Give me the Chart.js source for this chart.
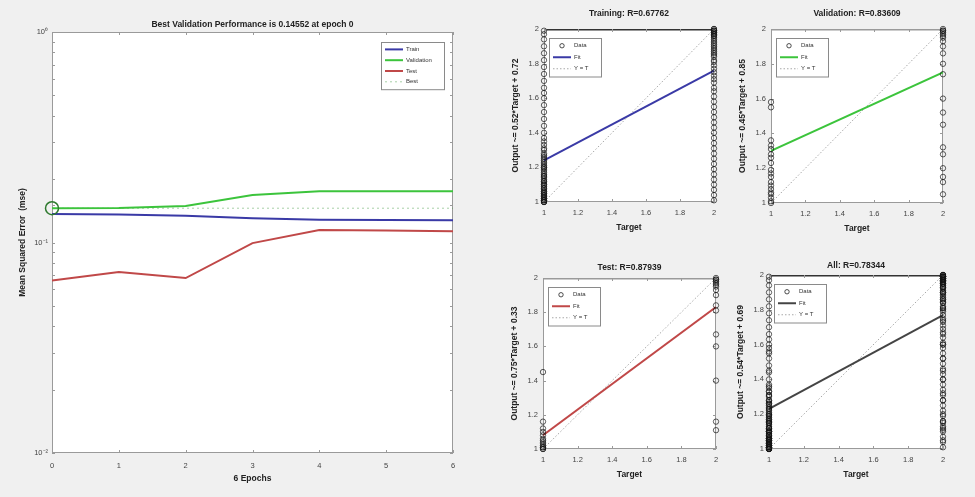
<!DOCTYPE html>
<html>
<head>
<meta charset="utf-8">
<script src="https://cdn.jsdelivr.net/npm/chart.js@4.4.1/dist/chart.umd.min.js"></script>
<style>
  html, body { margin: 0; padding: 0; background: #f0f0f0; }
  body { width: 975px; height: 497px; position: relative; overflow: hidden; }
  canvas { position: absolute; }
</style>
</head>
<body>
<canvas id="perf"></canvas>
<canvas id="reg0"></canvas>
<canvas id="reg1"></canvas>
<canvas id="reg2"></canvas>
<canvas id="reg3"></canvas>
<script>
// performance plot (mse per epoch)
const epochs = [0, 1, 2, 3, 4, 5, 6];
const trainPerf = [0.1365, 0.136, 0.134, 0.1303, 0.1283, 0.128, 0.1275];
const valPerf = [0.14552, 0.146, 0.149, 0.168, 0.175, 0.175, 0.175];
const testPerf = [0.066, 0.0724, 0.0678, 0.0993, 0.1146, 0.114, 0.113];
const bestEpoch = 0;
const bestPerf = 0.14552;
const perfTickLabels = ['10\u207B\u00B2', '10\u207B\u00B9', '10\u2070'];

// regression panels
const panelNames = ['Training', 'Validation', 'Test', 'All'];
const rValues = [0.67762, 0.83609, 0.87939, 0.78344];
const fitSlope = [0.52, 0.45, 0.75, 0.54];
const fitIntercept = [0.72, 0.85, 0.33, 0.69];
const regTickLabels = ['1', '1.2', '1.4', '1.6', '1.8', '2'];

// network outputs for samples with target 1 and target 2
const trainOut1 = [1.00, 1.00, 1.00, 1.01, 1.01, 1.01, 1.02, 1.02, 1.03, 1.03, 1.04, 1.04, 1.05, 1.05, 1.06, 1.06,
  1.07, 1.08, 1.08, 1.09, 1.10, 1.10, 1.11, 1.12, 1.12, 1.13, 1.14, 1.15, 1.15, 1.16, 1.17, 1.18, 1.19, 1.20,
  1.20, 1.21, 1.22, 1.23, 1.24, 1.25, 1.26, 1.27, 1.28, 1.30, 1.31, 1.33, 1.35, 1.37, 1.40, 1.44, 1.48, 1.52,
  1.56, 1.60, 1.63, 1.66, 1.70, 1.74, 1.78, 1.82, 1.86, 1.90, 1.94, 1.97, 1.99];
const trainOut2 = [2.00, 2.00, 1.99, 1.99, 1.99, 1.98, 1.98, 1.97, 1.97, 1.96, 1.96, 1.95, 1.94, 1.93, 1.92, 1.91,
  1.90, 1.89, 1.88, 1.87, 1.86, 1.85, 1.84, 1.82, 1.81, 1.79, 1.77, 1.75, 1.73, 1.71, 1.69, 1.66, 1.64, 1.61,
  1.58, 1.55, 1.52, 1.49, 1.46, 1.43, 1.40, 1.37, 1.34, 1.31, 1.28, 1.25, 1.22, 1.19, 1.16, 1.13, 1.10, 1.07,
  1.04, 1.01];
const valOut1 = [1.00, 1.01, 1.03, 1.05, 1.06, 1.08, 1.10, 1.12, 1.15, 1.17, 1.19, 1.23, 1.26, 1.28, 1.31, 1.33,
  1.36, 1.55, 1.58];
const valOut2 = [2.00, 1.99, 1.99, 1.98, 1.97, 1.96, 1.95, 1.93, 1.90, 1.86, 1.80, 1.74, 1.60, 1.52, 1.45, 1.32,
  1.28, 1.20, 1.15, 1.12, 1.05];
const testOut1 = [1.00, 1.00, 1.01, 1.01, 1.02, 1.03, 1.04, 1.05, 1.06, 1.08, 1.10, 1.12, 1.16, 1.45];
const testOut2 = [2.00, 1.99, 1.99, 1.98, 1.97, 1.96, 1.95, 1.93, 1.90, 1.84, 1.81, 1.67, 1.60, 1.40, 1.16, 1.11];

const outputs1 = [trainOut1, valOut1, testOut1, trainOut1.concat(valOut1, testOut1)];
const outputs2 = [trainOut2, valOut2, testOut2, trainOut2.concat(valOut2, testOut2)];
const fitColors = ['#3a3aa6', '#3cc43c', '#c04848', '#444444'];
const topEdgeColors = ['#333333', '#9a9a9a', '#9a9a9a', '#333333'];

Chart.defaults.font.family = '"Liberation Sans", Arial, sans-serif';
Chart.defaults.color = '#444';
Chart.defaults.animation = false;

// white plot area, box and inward ticks like the original figure
const plotFrame = {
  id: 'plotFrame',
  beforeDraw(chart) {
    const { ctx, chartArea: a } = chart;
    ctx.save();
    ctx.fillStyle = '#fff';
    ctx.fillRect(a.left, a.top, a.right - a.left, a.bottom - a.top);
    ctx.restore();
  },
  beforeDatasetsDraw(chart, args, opts) {
    const { ctx, chartArea: a, scales } = chart;
    ctx.save();
    ctx.strokeStyle = '#9a9a9a';
    ctx.lineWidth = 1;
    ctx.strokeRect(a.left + 0.5, a.top + 0.5, a.right - a.left - 1, a.bottom - a.top - 1);
    if (opts.topColor) {
      ctx.strokeStyle = opts.topColor;
      ctx.lineWidth = 1.5;
      ctx.beginPath();
      ctx.moveTo(a.left, a.top + 0.75); ctx.lineTo(a.right, a.top + 0.75);
      ctx.stroke();
      ctx.strokeStyle = '#9a9a9a';
      ctx.lineWidth = 1;
    }
    ctx.beginPath();
    scales.x.ticks.forEach(t => {
      const px = Math.round(scales.x.getPixelForValue(t.value)) + 0.5;
      ctx.moveTo(px, a.bottom); ctx.lineTo(px, a.bottom - 3);
      ctx.moveTo(px, a.top); ctx.lineTo(px, a.top + 3);
    });
    scales.y.ticks.forEach(t => {
      const py = Math.round(scales.y.getPixelForValue(t.value)) + 0.5;
      ctx.moveTo(a.left, py); ctx.lineTo(a.left + 3, py);
      ctx.moveTo(a.right, py); ctx.lineTo(a.right - 3, py);
    });
    ctx.stroke();
    ctx.restore();
  }
};

// legend box drawn inside the plot area
const boxLegend = {
  id: 'boxLegend',
  afterDatasetsDraw(chart, args, opts) {
    const { ctx, chartArea: a } = chart;
    const items = chart.data.datasets.filter(d => d.label);
    const x = opts.side === 'right' ? a.right - opts.dx - opts.w : a.left + opts.dx;
    const y = a.top + opts.dy;
    const h = opts.pad * 2 + opts.rowH * items.length;
    ctx.save();
    ctx.fillStyle = '#fff';
    ctx.fillRect(x, y, opts.w, h);
    ctx.strokeStyle = '#8a8a8a';
    ctx.lineWidth = 1;
    ctx.strokeRect(x + 0.5, y + 0.5, opts.w, h);
    ctx.font = '6px "Liberation Sans", Arial, sans-serif';
    ctx.textBaseline = 'middle';
    items.forEach((d, i) => {
      const cy = y + opts.pad + opts.rowH * (i + 0.5);
      const sx = x + 4, ex = x + 4 + opts.sample;
      ctx.strokeStyle = d.borderColor;
      if (d.showLine === false) {
        ctx.lineWidth = 0.8;
        ctx.beginPath();
        ctx.arc((sx + ex) / 2, cy, 2.2, 0, Math.PI * 2);
        ctx.stroke();
      } else {
        ctx.lineWidth = d.borderWidth;
        ctx.setLineDash(d.borderDash || []);
        ctx.beginPath();
        ctx.moveTo(sx, cy); ctx.lineTo(ex, cy);
        ctx.stroke();
        ctx.setLineDash([]);
      }
      ctx.fillStyle = '#333';
      ctx.fillText(d.label, ex + 3, cy);
    });
    ctx.restore();
  }
};

function placeCanvas(id, left, top, width, height) {
  const c = document.getElementById(id);
  c.width = width; c.height = height;
  c.style.left = left + 'px'; c.style.top = top + 'px';
  c.style.width = width + 'px'; c.style.height = height + 'px';
  return c;
}

const boldFont = { size: 8.5, weight: 'bold' };
const tickFont = { size: 7.5 };

// ---- performance chart ----
(function () {
  const area = { l: 52, r: 453, t: 32, b: 453 };
  const side = 44;
  const c = placeCanvas('perf', area.l - side, 0, area.r - area.l + side * 2, 497);
  const pts = arr => epochs.map((e, i) => ({ x: e, y: arr[i] }));
  new Chart(c, {
    type: 'line',
    data: {
      datasets: [
        { label: 'Train', data: pts(trainPerf), borderColor: '#3a3aa6', borderWidth: 2, pointRadius: 0, order: 2 },
        { label: 'Validation', data: pts(valPerf), borderColor: '#3cc43c', borderWidth: 2, pointRadius: 0, order: 1 },
        { label: 'Test', data: pts(testPerf), borderColor: '#c04848', borderWidth: 2, pointRadius: 0, order: 3 },
        { label: 'Best', data: [{ x: epochs[0], y: bestPerf }, { x: epochs[epochs.length - 1], y: bestPerf }],
          borderColor: 'rgba(60,150,60,0.45)', borderWidth: 1, borderDash: [2, 3], pointRadius: 0, order: 4 },
        { data: [{ x: bestEpoch, y: bestPerf }], showLine: false, pointRadius: 6.5, pointBorderWidth: 1.5,
          pointBackgroundColor: 'rgba(0,0,0,0)', pointBorderColor: '#2f7a2f', order: 0, clip: false }
      ]
    },
    options: {
      responsive: false,
      layout: { padding: 0 },
      plugins: {
        legend: { display: false },
        tooltip: { enabled: false },
        title: {
          display: true, text: 'Best Validation Performance is ' + bestPerf + ' at epoch ' + bestEpoch,
          font: boldFont, color: '#222', padding: { top: 20, bottom: 1.8 }
        },
        boxLegend: { side: 'right', dx: 9, dy: 10, w: 63, pad: 2, rowH: 10.8, sample: 18 },
        plotFrame: {}
      },
      scales: {
        x: {
          type: 'linear', min: 0, max: 6,
          ticks: { stepSize: 1, font: tickFont, padding: 8 },
          grid: { display: false, drawTicks: false }, border: { display: false },
          title: { display: true, text: epochs.length - 1 + ' Epochs', font: boldFont, color: '#222', padding: { top: 0, bottom: 13 } },
          afterFit: s => { s.height = 44; }
        },
        y: {
          type: 'logarithmic', min: 0.01, max: 1,
          ticks: {
            font: tickFont, padding: 4, autoSkip: false,
            callback: v => {
              const e = Math.log10(v);
              return Math.abs(e - Math.round(e)) < 1e-6 ? perfTickLabels[Math.round(e) + 2] : '';
            }
          },
          grid: { display: false, drawTicks: false }, border: { display: false },
          title: { display: true, text: 'Mean Squared Error  (mse)', font: boldFont, color: '#222', padding: { top: 10, bottom: 0 } },
          afterFit: s => { s.width = side; }
        },
        yRight: {
          position: 'right', min: 0, max: 1, display: true,
          ticks: { display: false }, grid: { display: false, drawTicks: false }, border: { display: false },
          afterFit: s => { s.width = side; }
        }
      }
    },
    plugins: [plotFrame, boxLegend]
  });
})();

// ---- regression charts ----
const regAreas = [
  { l: 544, r: 714, t: 29, b: 202, gap: 15 },
  { l: 771, r: 943, t: 29, b: 203, gap: 15 },
  { l: 543, r: 716, t: 278, b: 449, gap: 10 },
  { l: 769, r: 943, t: 275, b: 449, gap: 9 }
];

regAreas.forEach((area, k) => {
  const side = 48, top = 29, bottom = 32;
  const c = placeCanvas('reg' + k, area.l - side, area.t - top, area.r - area.l + side * 2, area.b - area.t + top + bottom);
  const data = outputs1[k].map(v => ({ x: 1, y: v })).concat(outputs2[k].map(v => ({ x: 2, y: v })));
  const m = fitSlope[k], b = fitIntercept[k];
  new Chart(c, {
    type: 'scatter',
    data: {
      datasets: [
        { label: 'Data', data: data, showLine: false, pointStyle: 'circle', pointRadius: 2.7, pointBorderWidth: 0.8,
          borderColor: '#222', pointBorderColor: 'rgba(20,20,20,0.85)', pointBackgroundColor: 'rgba(0,0,0,0)', clip: false, order: 1 },
        { label: 'Fit', type: 'line', data: [{ x: 1, y: m * 1 + b }, { x: 2, y: m * 2 + b }],
          borderColor: fitColors[k], borderWidth: 2, pointRadius: 0, order: 2 },
        { label: 'Y = T', type: 'line', data: [{ x: 1, y: 1 }, { x: 2, y: 2 }],
          borderColor: '#a8a8a8', borderWidth: 1, borderDash: [1.5, 2], pointRadius: 0, order: 3 }
      ]
    },
    options: {
      responsive: false,
      layout: { padding: 0 },
      plugins: {
        legend: { display: false },
        tooltip: { enabled: false },
        title: {
          display: true, text: panelNames[k] + ': R=' + rValues[k].toFixed(5),
          font: boldFont, color: '#222', padding: { top: top - area.gap - 5.1, bottom: area.gap - 5.1 }
        },
        boxLegend: { side: 'left', dx: 5, dy: 9, w: 52, pad: 2, rowH: 11.5, sample: 18 },
        plotFrame: { topColor: topEdgeColors[k] }
      },
      scales: {
        x: {
          type: 'linear', min: 1, max: 2,
          ticks: { stepSize: 0.2, font: tickFont, padding: 6, callback: (v, i) => regTickLabels[i] },
          grid: { display: false, drawTicks: false }, border: { display: false },
          title: { display: true, text: 'Target', font: boldFont, color: '#222', padding: { top: 0, bottom: 1 } },
          afterFit: s => { s.height = bottom; }
        },
        y: {
          type: 'linear', min: 1, max: 2,
          ticks: { stepSize: 0.2, font: tickFont, padding: 5, callback: (v, i) => regTickLabels[i] },
          grid: { display: false, drawTicks: false }, border: { display: false },
          title: { display: true, text: 'Output ~= ' + m.toFixed(2) + '*Target + ' + b.toFixed(2), font: boldFont, color: '#222', padding: { top: 15, bottom: 0 } },
          afterFit: s => { s.width = side; }
        },
        yRight: {
          position: 'right', min: 0, max: 1, display: true,
          ticks: { display: false }, grid: { display: false, drawTicks: false }, border: { display: false },
          afterFit: s => { s.width = side; }
        }
      }
    },
    plugins: [plotFrame, boxLegend]
  });
});
</script>
</body>
</html>
